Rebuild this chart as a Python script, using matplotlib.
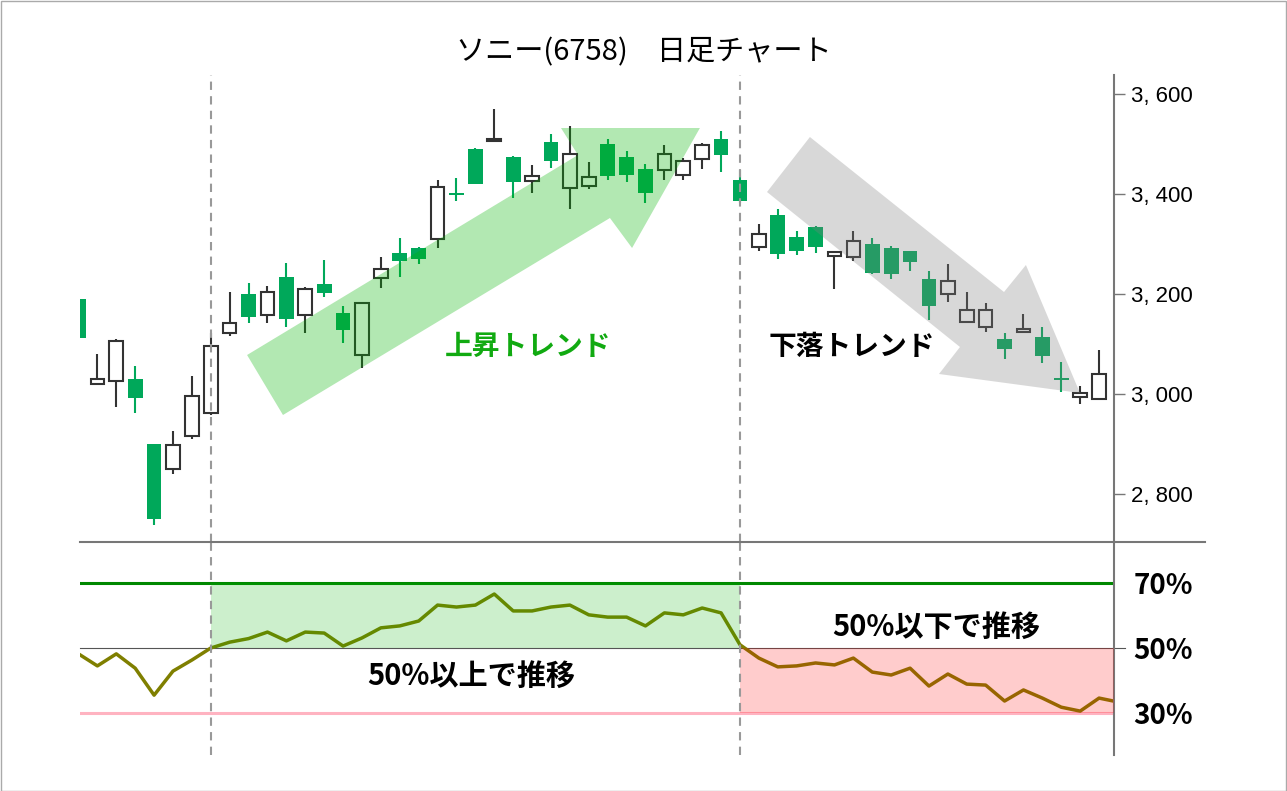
import numpy as np
import matplotlib
matplotlib.use("Agg")
import matplotlib.pyplot as plt
from matplotlib.patches import Polygon, Rectangle
from matplotlib.lines import Line2D

plt.rcParams['font.family'] = ['Noto Sans CJK JP', 'DejaVu Sans']

# daily candles (open, high, low, close)
opens = [3189, 3019, 3025, 3029, 2899, 2849, 2915, 2961, 3121, 3200,
         3157, 3233, 3157, 3219, 3161, 3077, 3231, 3281, 3291, 3309,
         3401, 3489, 3505, 3473, 3425, 3503, 3411, 3415, 3499, 3473,
         3449, 3447, 3437, 3469, 3509, 3427, 3293, 3357, 3313, 3333,
         3275, 3273, 3299, 3291, 3285, 3229, 3199, 3143, 3133, 3109,
         3123, 3113, 3031, 2993, 2989]
highs = [3189, 3080, 3110, 3055, 2899, 2925, 3035, 3121, 3203, 3221,
         3215, 3261, 3213, 3267, 3175, 3181, 3273, 3311, 3293, 3427,
         3431, 3491, 3569, 3475, 3457, 3519, 3535, 3463, 3509, 3485,
         3459, 3497, 3471, 3501, 3525, 3447, 3339, 3369, 3325, 3335,
         3283, 3325, 3311, 3295, 3285, 3245, 3259, 3203, 3181, 3121,
         3159, 3133, 3063, 3015, 3087]
lows = [3111, 3019, 2973, 2961, 2737, 2839, 2909, 2957, 3115, 3141,
        3141, 3133, 3121, 3193, 3101, 3051, 3211, 3233, 3259, 3291,
        3385, 3419, 3505, 3391, 3401, 3451, 3369, 3409, 3427, 3423,
        3381, 3427, 3427, 3449, 3443, 3381, 3285, 3269, 3277, 3281,
        3209, 3265, 3239, 3229, 3245, 3147, 3183, 3143, 3123, 3069,
        3123, 3061, 3003, 2979, 2989]
closes = [3111, 3029, 3105, 2991, 2749, 2897, 2995, 3095, 3141, 3153,
          3203, 3149, 3209, 3201, 3127, 3181, 3249, 3265, 3269, 3413,
          3397, 3419, 3508, 3423, 3435, 3465, 3479, 3433, 3435, 3437,
          3401, 3479, 3465, 3497, 3477, 3385, 3319, 3279, 3285, 3293,
          3283, 3305, 3241, 3239, 3263, 3175, 3225, 3167, 3167, 3089,
          3129, 3075, 3027, 3001, 3039]

# oscillator (%)
osc = [48.2, 44.5, 48.2, 43.8, 35.5, 42.9, 46.3, 50.0, 51.8, 52.9,
       54.9, 52.2, 54.9, 54.6, 50.6, 53.1, 56.2, 56.8, 58.3, 63.2,
       62.6, 63.2, 66.6, 61.4, 61.4, 62.6, 63.2, 60.2, 59.5, 59.5,
       56.8, 60.8, 60.2, 62.3, 60.8, 51.0, 46.9, 44.2, 44.5, 45.4,
       44.8, 46.9, 42.6, 41.7, 43.8, 38.3, 42.0, 38.9, 38.6, 33.7,
       37.1, 34.6, 31.8, 30.6, 34.6, 33.4]

price_ticks = [2800, 3000, 3200, 3400, 3600]
price_labels = ['2, 800', '3, 000', '3, 200', '3, 400', '3, 600']
pct_ticks = [30, 50, 70]
pct_labels = ['30%', '50%', '70%']

up_start, trend_change = 7, 35   # candle index of the two dashed lines

green = '#00a85a'
dark = '#333333'
W, H = 1287, 791

fig = plt.figure(figsize=(W / 100, H / 100), dpi=100)
ax = fig.add_axes([80 / W, (H - 542) / H, 1034 / W, 467 / H])
ax2 = fig.add_axes([80 / W, (H - 755) / H, 1034 / W, 213 / H])

x = np.arange(len(opens))
o = np.array(opens); c = np.array(closes)
up = c >= o
bottom = np.minimum(o, c)
height = np.maximum(np.abs(c - o), 4)

ax.vlines(x[up], np.array(lows)[up], np.array(highs)[up], color=dark, lw=1.5, zorder=1)
ax.vlines(x[~up], np.array(lows)[~up], np.array(highs)[~up], color=green, lw=1.5, zorder=1)
ax.bar(x[up], height[up], bottom=bottom[up], width=0.72, facecolor='white',
       edgecolor=dark, lw=1.5, zorder=2)
ax.bar(x[~up], height[~up], bottom=bottom[~up], width=0.78, color=green,
       lw=0, zorder=2)

# trend arrows
up_arrow = [(8.92, 3077), (26.43, 3477), (25.53, 3531), (32.88, 3531),
            (29.29, 3291), (28.12, 3351), (10.82, 2957)]
down_arrow = [(38.7, 3513), (48.97, 3203), (50.13, 3257), (52.99, 3001),
              (45.53, 3039), (46.64, 3093), (36.43, 3403)]
ax.add_patch(Polygon(up_arrow, closed=True, facecolor=(0, 0.7, 0), alpha=0.3, lw=0, zorder=3))
ax.add_patch(Polygon(down_arrow, closed=True, facecolor='#808080', alpha=0.3, lw=0, zorder=3))

ax.text(23.8, 3093, '上昇トレンド', color='#11aa11', fontsize=20, fontweight='bold',
        ha='center', va='center', zorder=4)
ax.text(40.9, 3093, '下落トレンド', color='black', fontsize=20, fontweight='bold',
        ha='center', va='center', zorder=4)

ax.set_xlim(0.08, 54.79)
ax.set_ylim(2703, 3637)
for s in ['top', 'left', 'bottom']:
    ax.spines[s].set_visible(False)
ax.spines['right'].set_color('#777777')
ax.spines['right'].set_linewidth(1.5)
ax.set_xticks([])
ax.yaxis.tick_right()
ax.set_yticks(price_ticks)
ax.set_yticklabels(price_labels, fontsize=16, family=['Liberation Sans', 'DejaVu Sans'])
ax.tick_params(axis='y', length=8, width=1, color='#777777', pad=4)

for a in (ax, ax2):
    a.axvline(up_start, color='#999999', lw=1.5, dashes=(4, 3), zorder=5)
    a.axvline(trend_change, color='#999999', lw=1.5, dashes=(4, 3), zorder=5)

# lower panel
xo = np.arange(len(osc))
ax2.plot(xo, osc, color='#7f7f00', lw=2.5, zorder=2)
ax2.axhline(70, color='#008800', lw=2.2, zorder=1)
ax2.axhline(30, color='#ffb3c1', lw=2.2, zorder=1)
ax2.axhline(50, xmax=1.011, color='#555555', lw=0.8, zorder=1, clip_on=False)
ax2.fill_between([up_start, trend_change], 50, 70, color=(0, 0.7, 0), alpha=0.2, lw=0, zorder=3)
ax2.fill_between([trend_change, 54.79], 30, 50, color='red', alpha=0.2, lw=0, zorder=3)

ax2.text(20.8, 41.4, '50%以上で推移', fontsize=21, fontweight='bold', ha='center', va='center')
ax2.text(45.4, 56.5, '50%以下で推移', fontsize=21, fontweight='bold', ha='center', va='center')

ax2.set_xlim(0.08, 54.79)
ax2.set_ylim(17.1, 82.6)
for s in ['top', 'left', 'bottom']:
    ax2.spines[s].set_visible(False)
ax2.spines['right'].set_color('#777777')
ax2.spines['right'].set_linewidth(1.5)
ax2.set_xticks([])
ax2.yaxis.tick_right()
ax2.set_yticks(pct_ticks)
ax2.set_yticklabels(pct_labels, fontsize=20, fontweight='bold')
ax2.tick_params(axis='y', length=0, pad=14)

# separator line and frame
fig.add_artist(Line2D([80 / W, 1205 / W], [(H - 542) / H] * 2, color='#777777', lw=1.5))
fig.add_artist(Rectangle((0.5 / W, 0.5 / H), 1 - 1.5 / W, 1 - 1.5 / H, fill=False,
                         edgecolor='#aaaaaa', lw=1))

fig.text(0.5, 1 - 52 / H, 'ソニー(6758)　日足チャート', fontsize=21, ha='center', va='center')

fig.savefig('out.png', dpi=100)
